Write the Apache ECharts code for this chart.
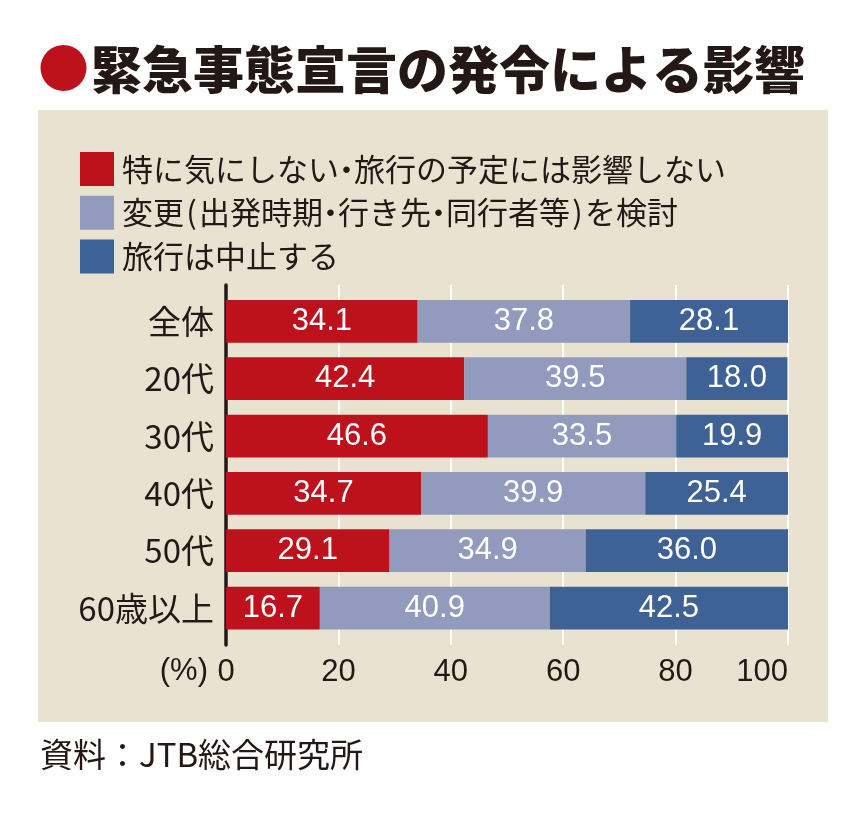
<!DOCTYPE html>
<html>
<head>
<meta charset="utf-8">
<script src="https://cdn.jsdelivr.net/npm/echarts@6/dist/echarts.min.js"></script>
<style>
html,body{margin:0;padding:0;background:#fff;}
#c{width:868px;height:813px;}
</style>
</head>
<body>
<div id="c"></div>
<script>
const titleText = '緊急事態宣言の発令による影響';
const sourceText = '資料：JTB総合研究所';
const unitText = '(%)';
const categories = ['全体', '20代', '30代', '40代', '50代', '60歳以上'];
const seriesNames = ['特に気にしない・旅行の予定には影響しない', '変更(出発時期・行き先・同行者等)を検討', '旅行は中止する'];
const noEffect = [34.1, 42.4, 46.6, 34.7, 29.1, 16.7];
const reconsider = [37.8, 39.5, 33.5, 39.9, 34.9, 40.9];
const cancel = [28.1, 18.0, 19.9, 25.4, 36.0, 42.5];
const xTicks = [0, 20, 40, 60, 80, 100];

const colors = ['#BD111C', '#929BBD', '#3E6296'];
const ink = '#231815';
const jp = '"Noto Sans CJK JP", "Noto Sans", sans-serif';
const num = '"Liberation Sans", Arial, sans-serif';

const chart = echarts.init(document.getElementById('c'));
const seriesData = [noEffect, reconsider, cancel];

function legendFmt(name) {
  return '{n|' + name.replace(/([・()])/g, '}{p|$1}{n|') + '}';
}

const option = {
  backgroundColor: '#ffffff',
  animation: false,
  graphic: [
    { type: 'rect', z: -10, shape: { x: 38, y: 110, width: 790, height: 612 }, style: { fill: '#E9E2D1' } },
    { type: 'circle', shape: { cx: 63.5, cy: 68, r: 23 }, style: { fill: '#BD111C' } },
    { type: 'text', x: 91, y: 70, style: { text: titleText, font: '900 51px ' + jp, fill: ink, textVerticalAlign: 'middle', textShadowColor: 'rgba(0,0,0,0.35)', textShadowOffsetX: 2, textShadowOffsetY: 2, textShadowBlur: 0 } },
    { type: 'text', x: 40, y: 754, style: { text: sourceText, font: '33px ' + jp, fill: ink, textVerticalAlign: 'middle' } },
    { type: 'text', x: 208, y: 671, style: { text: unitText, font: '31px ' + num, fill: ink, textAlign: 'right', textVerticalAlign: 'middle' } }
  ],
  legend: {
    data: seriesNames,
    orient: 'vertical',
    left: 80,
    top: 152,
    padding: 0,
    icon: 'rect',
    itemWidth: 34,
    itemHeight: 34,
    itemGap: 9.7,
    formatter: legendFmt,
    textStyle: {
      fontSize: 31, color: ink, fontFamily: jp, lineHeight: 34, padding: [0, 0, 0, 3],
      rich: {
        n: { fontSize: 31, color: ink, fontFamily: jp, lineHeight: 34 },
        p: { fontSize: 31, color: ink, fontFamily: jp, lineHeight: 34, width: 15, align: 'center' }
      }
    },
    selectedMode: false
  },
  grid: [
    { left: 226, right: 80, top: 292.7, height: 344, containLabel: false },
    { left: 226, right: 80, top: 285, height: 360, containLabel: false }
  ],
  xAxis: [
    { gridIndex: 0, type: 'value', min: 0, max: 100, show: false },
    {
      gridIndex: 1, type: 'value', min: 0, max: 100, interval: 20,
      axisLine: { show: false }, axisTick: { show: false },
      splitLine: { show: true, showMinLine: false, lineStyle: { color: '#ffffff', width: 2 } },
      axisLabel: { fontSize: 31, color: ink, fontFamily: num, margin: 12, alignMaxLabel: 'right',
        formatter: v => xTicks.includes(v) ? String(v) : '' }
    }
  ],
  yAxis: [
    {
      gridIndex: 0, type: 'category', inverse: true, data: categories,
      axisLine: { show: false }, axisTick: { show: false }, splitLine: { show: false },
      axisLabel: { fontSize: 33, color: ink, fontFamily: jp, fontWeight: 'normal', margin: 12 }
    },
    {
      gridIndex: 1, type: 'value', min: 0, max: 1, offset: 2,
      axisLine: { show: true, lineStyle: { color: ink, width: 3.5 } },
      axisTick: { show: false }, axisLabel: { show: false }, splitLine: { show: false }
    }
  ],
  series: seriesNames.map((name, i) => ({
    name: name,
    type: 'bar',
    stack: 'total',
    xAxisIndex: 0,
    yAxisIndex: 0,
    barWidth: 42.7,
    data: seriesData[i],
    itemStyle: { color: colors[i] },
    label: {
      show: true, position: 'inside', color: '#ffffff', fontSize: 31, fontFamily: num,
      formatter: p => Number(p.value).toFixed(1)
    },
    z: 3
  }))
};
chart.setOption(option);
</script>
</body>
</html>
